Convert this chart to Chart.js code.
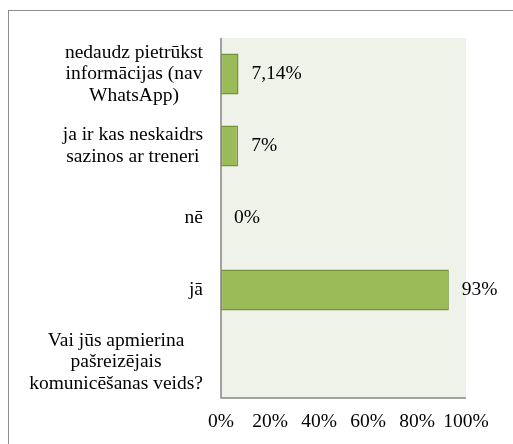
<!DOCTYPE html>
<html>
<head>
<meta charset="utf-8">
<script src="https://cdn.jsdelivr.net/npm/chart.js@4/dist/chart.umd.min.js"></script>
<style>
  html, body { margin: 0; padding: 0; background: #fff; }
  #wrap { width: 513px; height: 444px; }
</style>
</head>
<body>
<div id="wrap"><canvas id="chart" width="513" height="444"></canvas></div>
<script>
// categories, top to bottom (each entry is the label's lines)
const categories = [
  ["nedaudz pietrūkst", "informācijas (nav", "WhatsApp)"],
  ["ja ir kas neskaidrs", "sazinos ar treneri"],
  ["nē"],
  ["jā"],
  ["Vai jūs apmierina", "pašreizējais", "komunicēšanas veids?"]
];
const values = [7.14, 7, 0, 93, null];
const valueLabels = ["7,14%", "7%", "0%", "93%", ""];
const xTicks = [0, 20, 40, 60, 80, 100];

const FONT = "'Liberation Serif', 'Times New Roman', serif";
const FONT_SIZE = 19.5;

// frame + plot background + custom category labels + value labels
const decorPlugin = {
  id: "decor",
  beforeDraw(chart) {
    const { ctx, chartArea } = chart;
    ctx.save();
    ctx.strokeStyle = "#8c8c8c";
    ctx.lineWidth = 1;
    ctx.strokeRect(8.5, 10.5, 700, 700);
    ctx.fillStyle = "#eef2e8";
    ctx.fillRect(chartArea.left, chartArea.top, chartArea.right - chartArea.left, chartArea.bottom - chartArea.top);
    ctx.restore();
  },
  afterDraw(chart) {
    const { ctx } = chart;
    const yScale = chart.scales.y;
    const xScale = chart.scales.x;
    ctx.save();
    ctx.font = FONT_SIZE + "px " + FONT;
    ctx.fillStyle = "#000";
    ctx.textBaseline = "middle";
    // category labels: block right aligned, lines centered on each other
    const rightEdge = 203;
    const lineH = 21.5;
    categories.forEach((lines, i) => {
      const yc = yScale.getPixelForValue(i);
      const maxW = Math.max(...lines.map(l => ctx.measureText(l).width));
      const cx = rightEdge - maxW / 2;
      ctx.textAlign = "center";
      lines.forEach((l, j) => {
        const y = yc + (j - (lines.length - 1) / 2) * lineH;
        ctx.fillText(l, cx, y);
      });
    });
    // value labels
    ctx.textAlign = "left";
    values.forEach((v, i) => {
      if (v === null) return;
      const x = xScale.getPixelForValue(v) + 13;
      const y = yScale.getPixelForValue(i);
      ctx.fillText(valueLabels[i], x, y);
    });
    // axis lines
    ctx.strokeStyle = "#868686";
    ctx.lineWidth = 1.5;
    ctx.beginPath();
    ctx.moveTo(chart.chartArea.left, chart.chartArea.top);
    ctx.lineTo(chart.chartArea.left, chart.chartArea.bottom);
    ctx.lineTo(chart.chartArea.right, chart.chartArea.bottom);
    ctx.stroke();
    ctx.restore();
  }
};

new Chart(document.getElementById("chart"), {
  type: "bar",
  data: {
    labels: categories.map(c => c.join(" ")),
    datasets: [{
      data: values,
      backgroundColor: "#9bbb59",
      borderColor: "#77933c",
      borderWidth: 1.5,
      borderSkipped: false,
      barPercentage: 0.57,
      categoryPercentage: 1
    }]
  },
  options: {
    indexAxis: "y",
    responsive: false,
    animation: false,
    layout: { padding: { left: 0, top: 38, right: 47, bottom: 0 } },
    plugins: { legend: { display: false }, tooltip: { enabled: false } },
    scales: {
      y: {
        grid: { display: false, drawTicks: false },
        border: { display: false },
        ticks: { display: false },
        afterFit(scale) { scale.width = 221; }
      },
      x: {
        min: 0,
        max: 100,
        afterBuildTicks(scale) { scale.ticks = xTicks.map(v => ({ value: v })); },
        grid: { display: false, drawTicks: false },
        border: { display: false },
        ticks: {
          padding: 12,
          maxRotation: 0,
          autoSkip: false,
          color: "#000",
          font: { family: FONT, size: FONT_SIZE },
          callback: v => v + "%"
        },
        afterFit(scale) { scale.height = 46; }
      }
    }
  },
  plugins: [decorPlugin]
});
</script>
</body>
</html>
